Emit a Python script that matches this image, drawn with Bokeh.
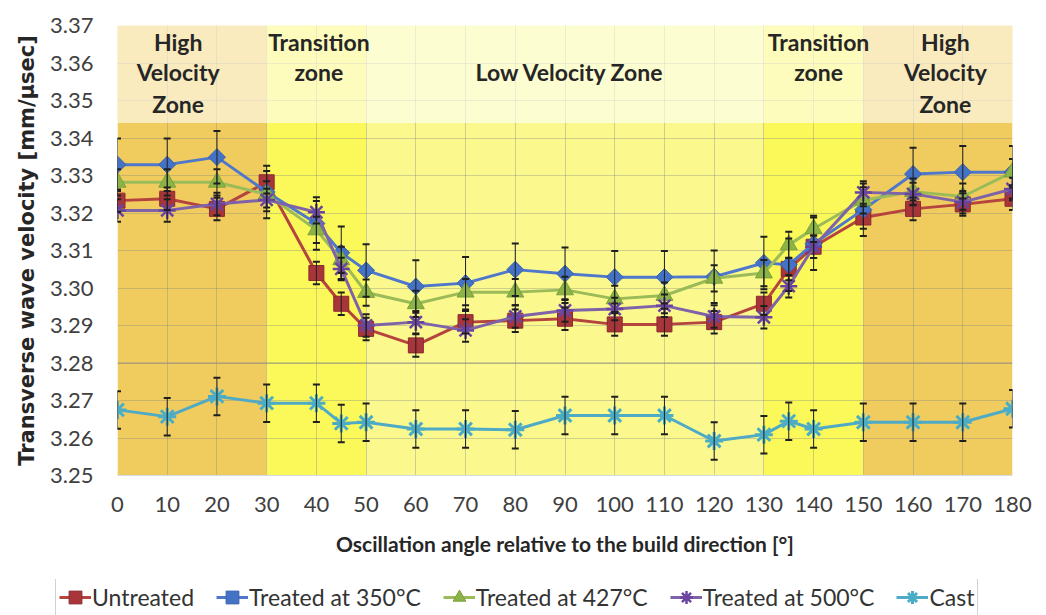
from bokeh.plotting import figure
from bokeh.layouts import column, row
from bokeh.models import (ColumnDataSource, Whisker, TeeHead, Legend, LegendItem,
                          PrintfTickFormatter, Span, Spacer)
from bokeh.core.properties import value
from bokeh.embed import file_html
from bokeh.resources import INLINE

# ---------------- data ----------------
angles = [0, 10, 20, 30, 40, 45, 50, 60, 70, 80, 90, 100, 110, 120, 130, 135, 140, 150, 160, 170, 180]

untreated = [3.3233, 3.3238, 3.3211, 3.3282, 3.3040, 3.2958, 3.2891, 3.2847, 3.2909, 3.2913, 3.2918,
             3.2903, 3.2903, 3.2909, 3.2958, 3.3051, 3.3110, 3.3188, 3.3211, 3.3223, 3.3238]
treated_350 = [3.3329, 3.3329, 3.3349, 3.3256, 3.3172, 3.3094, 3.3047, 3.3004, 3.3013, 3.3049, 3.3038,
               3.3029, 3.3029, 3.3030, 3.3067, 3.3062, 3.3118, 3.3209, 3.3304, 3.3309, 3.3309]
treated_427 = [3.3282, 3.3282, 3.3282, 3.3250, 3.3155, 3.3075, 3.2988, 3.2958, 3.2989, 3.2989, 3.2995,
               3.2971, 3.2980, 3.3026, 3.3040, 3.3115, 3.3158, 3.3234, 3.3257, 3.3244, 3.3309]
treated_500 = [3.3207, 3.3207, 3.3224, 3.3235, 3.3202, 3.3051, 3.2900, 3.2909, 3.2887, 3.2924, 3.2940,
               3.2944, 3.2953, 3.2924, 3.2922, 3.3005, 3.3110, 3.3255, 3.3251, 3.3229, 3.3264]
cast = [3.2675, 3.2657, 3.2711, 3.2693, 3.2693, 3.2639, 3.2642, 3.2624, 3.2624, 3.2622, 3.2660,
        3.2660, 3.2660, 3.2592, 3.2609, 3.2645, 3.2624, 3.2642, 3.2642, 3.2642, 3.2678]

err_untreated = 0.003
err_350 = 0.007
err_427 = 0.0035
err_500 = 0.003
err_cast = 0.005

series_names = ["Untreated", "Treated at 350°C", "Treated at 427°C", "Treated at 500°C", "Cast"]

zone_left = [0, 30, 50, 130, 150]
zone_right = [30, 50, 130, 150, 180]
zone_colors = ["#F0CC5E", "#FBF859", "#FBF98E", "#FBF859", "#F0CC5E"]
band_bottom = 3.344

zone_label_x = [12.2, 12.2, 12.2, 40.5, 40.5, 91.0, 141.0, 141.0, 166.5, 166.5, 166.5]
zone_label_y = [3.3655, 3.3575, 3.3492, 3.3655, 3.3575, 3.3575, 3.3655, 3.3575, 3.3655, 3.3575, 3.3492]
zone_label_text = ["High", "Velocity", "Zone", "Transition", "zone", "Low Velocity Zone",
                   "Transition", "zone", "High", "Velocity", "Zone"]

x_ticks = [0, 10, 20, 30, 40, 50, 60, 70, 80, 90, 100, 110, 120, 130, 140, 150, 160, 170, 180]
y_ticks = [3.25, 3.26, 3.27, 3.28, 3.29, 3.30, 3.31, 3.32, 3.33, 3.34, 3.35, 3.36, 3.37]

# ---------------- main figure ----------------
p = figure(width=1046, height=579, x_range=(0, 180), y_range=(3.25, 3.37),
           output_backend="svg", toolbar_location=None,
           min_border_left=117, min_border_right=34, min_border_top=25, min_border_bottom=104)
p.outline_line_color = None
p.background_fill_color = "white"
p.border_fill_color = "white"

bg = p.quad(left=zone_left, right=zone_right, bottom=3.25, top=3.37,
            fill_color=zone_colors, line_color=None)
bg.level = "image"

p.xgrid.ticker = x_ticks
p.ygrid.ticker = y_ticks
p.xgrid.grid_line_color = "#808080"
p.ygrid.grid_line_color = "#808080"
p.xgrid.grid_line_alpha = 0.35
p.ygrid.grid_line_alpha = 0.35
p.add_layout(Span(location=3.28, dimension="width", line_color="#8A8A8A",
                  line_alpha=0.5, line_width=1.5, level="underlay"))

ov = p.quad(left=[0], right=[180], bottom=[band_bottom], top=[3.37],
            fill_color="white", fill_alpha=0.6, line_color=None)

for ax in (p.xaxis, p.yaxis):
    ax.axis_line_color = None
    ax.major_tick_line_color = None
    ax.minor_tick_line_color = None
    ax.major_tick_in = 0
    ax.major_tick_out = 0
    ax.major_label_text_font = "Lato"
    ax.major_label_text_font_size = "22px"
    ax.major_label_text_color = "#404040"
    ax.axis_label_text_color = "#262626"
    ax.axis_label_text_font_style = "bold"

p.xaxis.ticker = x_ticks
p.yaxis.ticker = y_ticks
p.yaxis.formatter = PrintfTickFormatter(format="%.2f")
p.xaxis.axis_line_color = "#D3DAE2"

p.xaxis.axis_label = "Oscillation angle relative to the build direction [°]"
p.xaxis.axis_label_text_font = "Lato"
p.xaxis.axis_label_text_font_size = "21px"
p.xaxis.major_label_standoff = 21
p.xaxis.axis_label_standoff = 16

p.yaxis.axis_label = "Transverse wave velocity [mm/µsec]"
p.yaxis.axis_label_text_font = "DejaVu Sans"
p.yaxis.axis_label_text_font_size = "21px"
p.yaxis.major_label_standoff = 24
p.yaxis.axis_label_standoff = 8

specs = [
    (untreated, err_untreated, "#B5443F", dict(marker="square", size=15, fill_color="#A8353A",
                                                line_color="#8C2A2E", line_width=1)),
    (treated_350, err_350, "#4F78CC", dict(marker="square", size=12, angle=0.785398,
                                            fill_color="#4472C4", line_color="#3A62B0", line_width=1)),
    (treated_427, err_427, "#9BBB59", dict(marker="triangle", size=17, fill_color="#8CB347",
                                            line_color="#7BA23A", line_width=1)),
    (treated_500, err_500, "#7F63A8", dict(marker="asterisk", size=17, line_color="#6A45A0",
                                            line_width=2.5)),
    (cast, err_cast, "#4FAAC6", dict(marker="asterisk", size=18, line_color="#4BACC6",
                                      line_width=3)),
]

for vals, err, lcolor, mk in specs:
    p.line(angles, vals, line_color=lcolor, line_width=3)
    p.scatter(angles, vals, **mk)
    src = ColumnDataSource(data=dict(x=angles,
                                     upper=[v + err for v in vals],
                                     lower=[v - err for v in vals]))
    p.add_layout(Whisker(source=src, base="x", upper="upper", lower="lower",
                         line_color="#1F1F1F", line_width=1,
                         upper_head=TeeHead(size=7, line_color="#1F1F1F", line_width=2),
                         lower_head=TeeHead(size=7, line_color="#1F1F1F", line_width=2),
                         level="annotation"))

p.text(x=zone_label_x, y=zone_label_y, text=zone_label_text,
       text_align="center", text_baseline="middle",
       text_font=value("Lato"), text_font_style="bold",
       text_font_size=value("23px"), text_color="#262626")

# ---------------- legend strip (same series, ranges keep the marks out of view) ----------------
q = figure(width=1001, height=36, x_range=(0, 1), y_range=(0, 1),
           x_axis_type=None, y_axis_type=None,
           output_backend="svg", toolbar_location=None,
           min_border_left=0, min_border_right=0, min_border_top=0, min_border_bottom=0)
q.outline_line_color = None
q.grid.visible = False
q.border_fill_color = "white"
q.background_fill_color = "white"

items = []
for name, (vals, err, lcolor, mk) in zip(series_names, specs):
    r_line = q.line(angles, vals, line_color=lcolor, line_width=3)
    r_mark = q.scatter(angles, vals, **mk)
    items.append(LegendItem(label=name, renderers=[r_line, r_mark]))

legend = Legend(items=items, location=(10, -2), orientation="horizontal",
                label_text_font="Lato", label_text_font_size="23px", label_text_color="#333333",
                glyph_width=32, glyph_height=32, label_height=16, label_standoff=1,
                spacing=22, padding=3, margin=0,
                border_line_color="#A6A6A6", border_line_width=1.5,
                background_fill_color="white", background_fill_alpha=1.0)
q.add_layout(legend)

layout = column(p, row(Spacer(width=45, height=36), q, spacing=0), spacing=0)
open("out.html", "w").write(file_html(layout, INLINE))
